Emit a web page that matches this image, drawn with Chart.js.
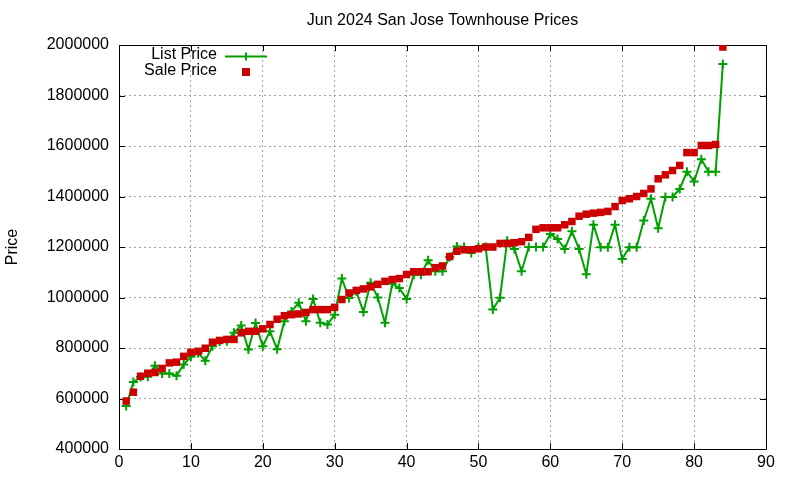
<!DOCTYPE html>
<html>
<head>
<meta charset="utf-8">
<script src="https://cdn.jsdelivr.net/npm/chart.js@4/dist/chart.umd.min.js"></script>
<style>
html,body{margin:0;padding:0;background:#fff;}
#wrap{width:800px;height:480px;}
</style>
</head>
<body>
<div id="wrap"><canvas id="c" width="800" height="480"></canvas></div>
<script>
const chartTitle = "Jun 2024 San Jose Townhouse Prices";
const yAxisLabel = "Price";
const seriesNames = ["List Price", "Sale Price"];
const homeIndex = [1,2,3,4,5,6,7,8,9,10,11,12,13,14,15,16,17,18,19,20,21,22,23,24,25,26,27,28,29,30,31,32,33,34,35,36,37,38,39,40,41,42,43,44,45,46,47,48,49,50,51,52,53,54,55,56,57,58,59,60,61,62,63,64,65,66,67,68,69,70,71,72,73,74,75,76,77,78,79,80,81,82,83,84];
const listPrice = [570000,665000,685000,686000,730000,699000,699000,690000,735000,765000,780000,750000,807000,825000,827000,860000,889000,794000,899000,807000,866000,795000,906000,945000,979000,906000,994000,900000,893000,932000,1075000,998000,1025000,943000,1058000,1000000,900000,1054000,1038000,994000,1090000,1090000,1148000,1104000,1104000,1160000,1202000,1200000,1176000,1200000,1200000,952000,999000,1225000,1192000,1104000,1200000,1200000,1200000,1251000,1232000,1192000,1262000,1192000,1092000,1288000,1199000,1199000,1288000,1152000,1199000,1199000,1305000,1391000,1274000,1398000,1398000,1430000,1498000,1459000,1548000,1498000,1498000,1925000];
const salePrice = [590000,625000,688000,700000,703000,719000,741000,744000,767000,783000,787000,799000,823000,830000,834000,834000,860000,866000,866000,876000,893000,914000,928000,932000,935000,941000,952000,952000,952000,961000,992000,1018000,1028000,1034000,1042000,1052000,1064000,1071000,1075000,1091000,1102000,1102000,1102000,1118000,1125000,1162000,1183000,1189000,1189000,1193000,1200000,1200000,1214000,1214000,1217000,1221000,1238000,1270000,1276000,1276000,1276000,1288000,1301000,1322000,1330000,1334000,1337000,1341000,1360000,1384000,1391000,1400000,1412000,1430000,1470000,1486000,1503000,1523000,1574000,1574000,1602000,1602000,1606000,1992000];
const xTicks = [0,10,20,30,40,50,60,70,80,90];
const yTicks = [400000,600000,800000,1000000,1200000,1400000,1600000,1800000,2000000];

const GREEN = "#00a000";
const RED = "#cc0000";
const FONT = "'Liberation Sans', Arial, sans-serif";

const listData = homeIndex.map((x,i)=>({x:x, y:listPrice[i]}));
const saleData = homeIndex.map((x,i)=>({x:x, y:salePrice[i]}));

const framePlugin = {
  id: 'frame',
  beforeDatasetsDraw(chart){
    const ctx = chart.ctx, a = chart.chartArea;
    const xs = chart.scales.x, ys = chart.scales.y;
    ctx.save();
    ctx.setLineDash([]);
    ctx.strokeStyle = '#000';
    ctx.lineWidth = 1;
    ctx.beginPath();
    ctx.rect(Math.round(a.left)+0.5, Math.round(a.top)+0.5, Math.round(a.right-a.left), Math.round(a.bottom-a.top));
    ctx.stroke();
    const tl = 6;
    ctx.beginPath();
    xTicks.forEach(v=>{
      const px = Math.round(xs.getPixelForValue(v))+0.5;
      ctx.moveTo(px, a.bottom); ctx.lineTo(px, a.bottom - tl);
      ctx.moveTo(px, a.top); ctx.lineTo(px, a.top + tl);
    });
    yTicks.forEach(v=>{
      const py = Math.round(ys.getPixelForValue(v))+0.5;
      ctx.moveTo(a.left, py); ctx.lineTo(a.left + tl, py);
      ctx.moveTo(a.right, py); ctx.lineTo(a.right - tl, py);
    });
    ctx.stroke();
    ctx.restore();
  },
  afterDraw(chart){
    const ctx = chart.ctx, a = chart.chartArea;
    ctx.save();
    ctx.fillStyle = '#000';
    ctx.font = "16px " + FONT;
    ctx.textAlign = 'center';
    ctx.textBaseline = 'middle';
    ctx.fillText(chartTitle, (a.left + a.right)/2, 21);
    ctx.save();
    ctx.translate(13, 247);
    ctx.rotate(-Math.PI/2);
    ctx.fillText(yAxisLabel, 0, 0);
    ctx.restore();
    ctx.textAlign = 'right';
    ctx.fillText(seriesNames[0], 217, 55);
    ctx.fillText(seriesNames[1], 217, 71);
    ctx.strokeStyle = GREEN;
    ctx.lineWidth = 2;
    ctx.beginPath();
    ctx.moveTo(225, 56.5); ctx.lineTo(267, 56.5);
    ctx.moveTo(246, 52.5); ctx.lineTo(246, 60.5);
    ctx.stroke();
    ctx.fillStyle = RED;
    ctx.fillRect(242, 68, 8, 8);
    ctx.restore();
  }
};

new Chart(document.getElementById('c'), {
  type: 'scatter',
  data: {
    datasets: [
      {
        label: seriesNames[0],
        data: listData,
        showLine: true,
        borderColor: GREEN,
        backgroundColor: GREEN,
        borderWidth: 2,
        pointStyle: 'cross',
        pointRadius: 4.5,
        pointBorderWidth: 2,
        pointBorderColor: GREEN,
        tension: 0,
        order: 1
      },
      {
        label: seriesNames[1],
        data: saleData,
        showLine: false,
        borderColor: RED,
        backgroundColor: RED,
        pointStyle: 'rect',
        pointRadius: 5.3,
        pointBorderWidth: 0,
        order: 0
      }
    ]
  },
  plugins: [framePlugin],
  options: {
    responsive: false,
    animation: false,
    events: [],
    layout: { padding: { top: 45, right: 34, bottom: 0, left: 0 } },
    plugins: {
      legend: { display: false },
      title: { display: false },
      tooltip: { enabled: false }
    },
    scales: {
      x: {
        type: 'linear',
        min: 0, max: 90,
        afterFit(s){ s.height = 31; },
        afterBuildTicks(s){ s.ticks = xTicks.map(v=>({value:v})); },
        border: { display: false, dash: [2, 3] },
        grid: {
          drawTicks: false,
          color: (c)=> (c.tick && (c.tick.value===0 || c.tick.value===90)) ? 'rgba(0,0,0,0)' : '#a0a0a0',
          lineWidth: 1,
          tickLength: 0
        },
        ticks: {
          color: '#000',
          font: { family: FONT, size: 16 },
          padding: 4,
          maxRotation: 0,
          callback: (v)=> String(v)
        }
      },
      y: {
        type: 'linear',
        min: 400000, max: 2000000,
        afterFit(s){ s.width = 119; },
        afterBuildTicks(s){ s.ticks = yTicks.map(v=>({value:v})); },
        border: { display: false, dash: [2, 3] },
        grid: {
          drawTicks: false,
          color: (c)=> (c.tick && (c.tick.value===400000 || c.tick.value===2000000)) ? 'rgba(0,0,0,0)' : '#a0a0a0',
          lineWidth: 1,
          tickLength: 0
        },
        ticks: {
          color: '#000',
          font: { family: FONT, size: 16 },
          padding: 10,
          callback: (v)=> String(v)
        }
      }
    }
  }
});
</script>
</body>
</html>
